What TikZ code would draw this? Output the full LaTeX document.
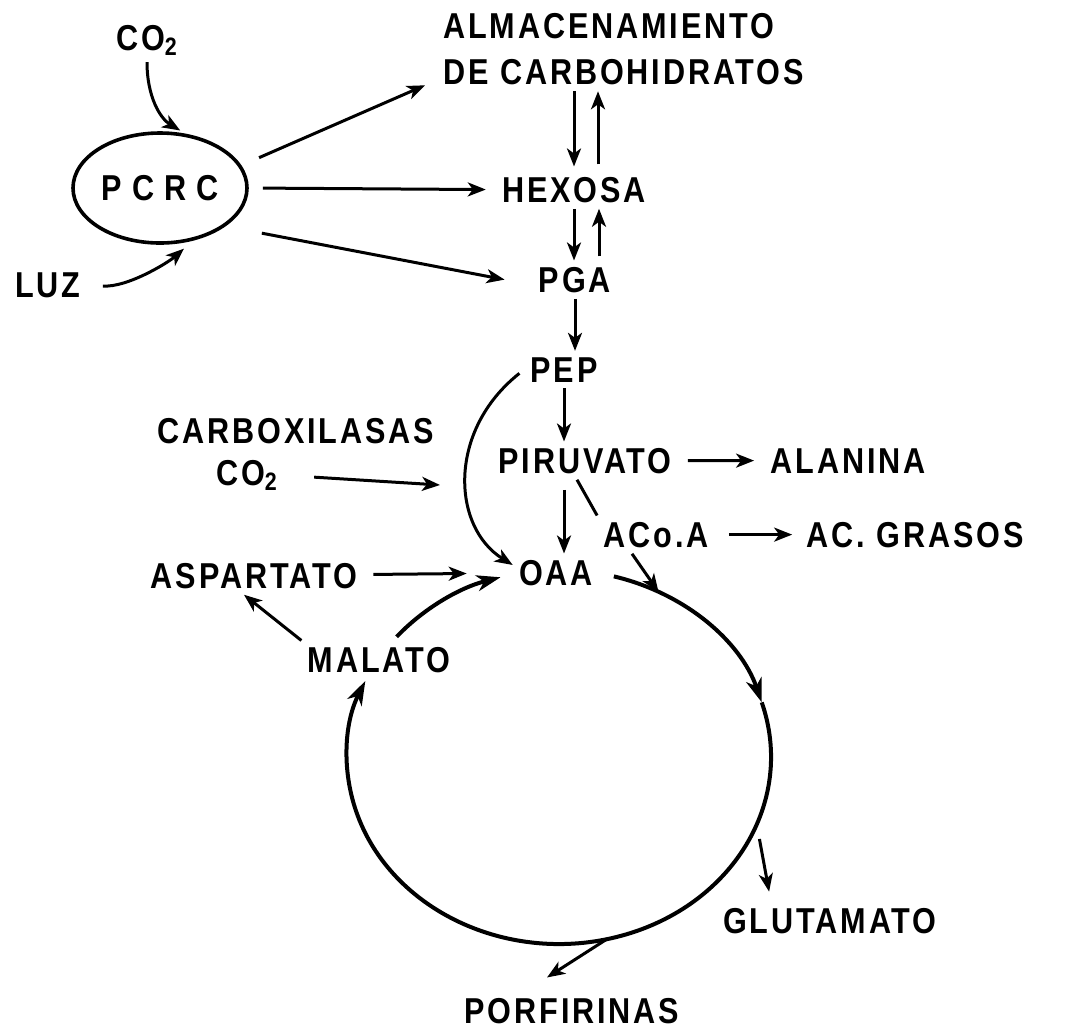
\documentclass[tikz,border=0pt]{standalone}
\usepackage{fontspec}
\newfontfamily\rotfont{Liberation Sans}[FakeStretch=0.85,LetterSpace=8]
\usetikzlibrary{arrows.meta,shapes.geometric}

\begin{document}
\begin{tikzpicture}[x=0.5pt, y=-0.5pt,
  txt/.style={inner sep=3pt, font=\rotfont\bfseries\fontsize{18}{23}\selectfont},
  flecha/.style={-{Stealth[length=9pt,width=7pt,inset=2.5pt]}, line width=1.5pt},
  ciclo/.style={-{Stealth[length=12pt,width=8pt,inset=3.5pt]}, line width=2pt}]

\useasboundingbox (0,0) rectangle (1075,1030);

% Light phase
\node[txt, draw, ellipse, line width=1.8pt, minimum width=87pt, minimum height=55pt, inner sep=0pt] (pcrc) at (160,188) {\addfontfeatures{LetterSpace=28}PCRC};
\node[txt, anchor=base] (co2a) at (147,50) {CO\textsubscript{2}};
\node[txt, anchor=base] (luz) at (48,297) {LUZ};

% Carbohydrates
\node[txt, anchor=north west, align=left] (almac) at (437,7) {ALMACENAMIENTO\\DE CARBOHIDRATOS};
\node[txt, anchor=base] (hexosa) at (574,202) {HEXOSA};
\node[txt, anchor=base] (pga) at (575,292) {PGA};
\node[txt, anchor=base] (pep) at (564,382) {PEP};
\node[txt, anchor=base] (piruv) at (585,473) {PIRUVATO};
\node[txt, anchor=base] (alanina) at (848,473) {ALANINA};
\node[txt, anchor=base] (acoa) at (656,547) {ACo.A};
\node[txt, anchor=base] (grasos) at (915,547) {AC. GRASOS};

% Carboxylation
\node[txt, anchor=base] (carbox) at (296,443) {CARBOXILASAS};
\node[txt, anchor=base] (co2b) at (247,485) {CO\textsubscript{2}};
\coordinate (cbx) at (440,485);

% Cycle members
\node[txt, anchor=base] (oaa) at (556,585) {OAA};
\node[txt, anchor=base] (aspart) at (254,588) {ASPARTATO};
\node[txt, anchor=base] (malato) at (379,672) {MALATO};
\node[txt, anchor=base] (glutam) at (830,933) {GLUTAMATO};
\node[txt, anchor=base] (porfir) at (572,1023) {PORFIRINAS};

% Points on the cycle
\coordinate (cyc) at (559,757);
\path (cyc) ++(-75:212 and 187) coordinate (cOaa);
\path (cyc) ++(-62:212 and 187) coordinate (cAcoa);
\path (cyc) ++(220:212 and 187) coordinate (cMal);
\path (cyc) ++(26:223 and 187) coordinate (cGlu);
\path (cyc) ++(77:212 and 187) coordinate (cPor);

% Arrows into PCRC
\draw[flecha, shorten >=3pt] (co2a.south) .. controls +(0,35) and +(-25,-15) .. (pcrc.65);
\draw[flecha, shorten <=8pt, shorten >=6pt] (luz.east) .. controls +(40,3) and +(-25,22) .. (pcrc.-58);

% Arrows out of PCRC
\draw[flecha] ([xshift=12pt]pcrc.22) -- ([shift={(-12,-6)}]almac.south west);
\draw[flecha, shorten <=7pt, shorten >=5pt] (pcrc.east) -- (hexosa.west);
\draw[flecha] ([xshift=24pt]pcrc.-40) -- ([xshift=-14pt]pga.west);

% Reversible steps
\draw[flecha, shorten >=2pt] (almac.south -| hexosa) -- (hexosa.north);
\draw[flecha, shorten <=3pt] ([xshift=12pt]hexosa.north) -- ([xshift=12pt]hexosa.north |- almac.south);
\draw[flecha] (hexosa.south) -- (hexosa.south |- pga.north);
\draw[flecha, shorten <=2pt] ([xshift=12pt]pga.north) -- ([xshift=12pt]pga.north |- hexosa.south);

% Glycolysis
\draw[flecha] (pga.south) -- (pga.south |- pep.north);
\draw[flecha] (pep.south) -- (pep.south |- piruv.north);
\draw[flecha, shorten <=5pt] (piruv.south -| pep) -- (oaa.north -| pep);
\draw[flecha, shorten <=5pt, shorten >=5pt] (piruv) -- (alanina);
\draw[line width=1.5pt] ([xshift=-4pt]piruv.south) -- (acoa.north west);
\draw[flecha, shorten <=7pt, shorten >=4pt] (acoa) -- (grasos);
\draw[flecha] ([xshift=-12pt]acoa.south) -- (cAcoa);

% Anaplerotic
\draw[flecha, shorten <=3pt] (pep.west) .. controls +(-77,61) and +(-61,-38) .. (oaa.170);
\draw[flecha, shorten <=15pt] (co2b.east) -- (cbx);
\draw[flecha, shorten <=5pt, shorten >=23pt] (aspart) -- (oaa);
\draw[flecha] (malato.north west) -- ([xshift=-5pt]aspart.south);

% Cycle
\draw[ciclo] (cOaa) arc[start angle=-75, end angle=-17, x radius=212, y radius=187] coordinate (cMid);
\draw[ciclo] (cMid) arc[start angle=-17, end angle=204, x radius=212, y radius=187];
\draw[ciclo] (cMal) arc[start angle=220, end angle=254, x radius=212, y radius=187];

% Outputs of cycle
\draw[flecha, shorten >=5pt] (cGlu) -- ([xshift=27pt]glutam.north west);
\draw[flecha] (cPor) -- ([shift={(-25,-14)}]porfir.north);

\end{tikzpicture}
\end{document}
